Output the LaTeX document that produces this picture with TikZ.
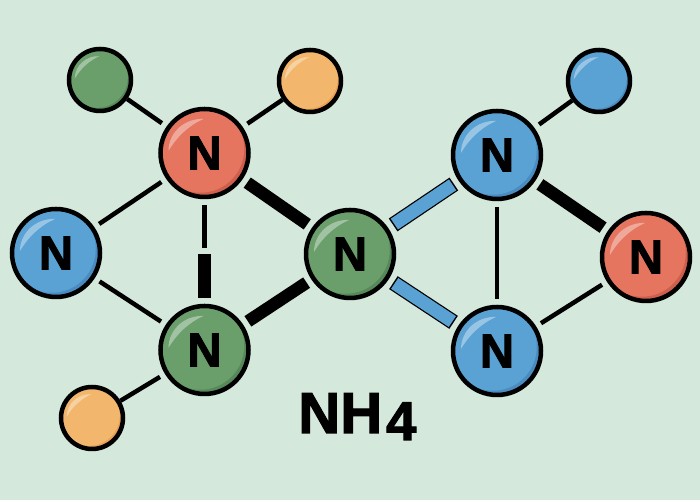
\documentclass[tikz,border=0pt]{standalone}
\usepackage{fontspec}
\setmainfont{Liberation Sans}
\newfontface\atomfont[FakeBold=2]{Liberation Sans Bold}
\usepackage{xcolor}
\definecolor{bgcol}{HTML}{D5E8DC}
\definecolor{redball}{HTML}{E5755F}
\definecolor{redballdark}{HTML}{CE5F4C}
\definecolor{blueball}{HTML}{5AA2D4}
\definecolor{blueballdark}{HTML}{4A8BC0}
\definecolor{greenball}{HTML}{6A9F6B}
\definecolor{greenballdark}{HTML}{578859}
\definecolor{orangeball}{HTML}{F2B76C}
\definecolor{orangeballdark}{HTML}{E9A155}
\tikzstyle{atom}      = [circle, draw=black, line width=0.09cm, inner sep=0pt, minimum size=1.76cm, outer sep=0.16cm, font=\fontsize{27}{27}\selectfont\atomfont]
\tikzstyle{smallatom} = [circle, draw=black, line width=0.09cm, inner sep=0pt, minimum size=1.24cm]
\tikzstyle{bond}      = [draw=black, line width=0.09cm]
\tikzstyle{fatbond}   = [draw=black, line width=0.25cm]
\tikzstyle{bluebond}  = [draw=blueball, line width=0.26cm, shorten >=0.03cm, shorten <=0.03cm,
  preaction={draw=black, line width=0.31cm, shorten >=0pt, shorten <=0pt}]
\tikzstyle{gloss}     = [fill=white, opacity=0.38]

\begin{document}
\begin{tikzpicture}
    \fill[bgcol] (0,0) rectangle (14,10);
    \useasboundingbox (0,0) rectangle (14,10);

    % atoms: x / y / colour / name / ball scale / style / text
    \foreach \x/\y/\colname/\name/\s/\kind/\txt in {
        4.09/6.94/redball/nredtop/1/atom/N,
        1.12/4.94/blueball/nblueleft/1/atom/N,
        4.09/3.00/greenball/ngreenlow/1/atom/N,
        7.00/4.92/greenball/ngreenmid/1/atom/N,
        9.94/6.90/blueball/nbluetop/1/atom/N,
        9.94/2.98/blueball/nbluelow/1/atom/N,
        12.92/4.86/redball/nredright/1/atom/N,
        2.00/8.40/greenball/sgreen/0.7/smallatom/,
        6.20/8.38/orangeball/sorangetop/0.7/smallatom/,
        11.98/8.38/blueball/sblue/0.7/smallatom/,
        1.84/1.64/orangeball/sorangelow/0.7/smallatom/}
    {
        \begin{scope}[shift={(\x,\y)}, scale=\s]
            \begin{scope}
                \clip (0,0) circle (0.88);
                \fill[\colname dark] (-1,-1) rectangle (1,1);
                \fill[\colname] (-0.085,0.085) circle (0.88);
            \end{scope}
            \fill[gloss] (-0.72,0.04) .. controls (-0.72,0.42) and (-0.38,0.70) .. (-0.02,0.68)
                .. controls (-0.30,0.56) and (-0.56,0.32) .. cycle;
        \end{scope}
        \node[\kind] (\name) at (\x,\y) {\txt};
    }

    \coordinate (vtop) at (4.09,5.04);
    \coordinate (vbot) at (4.09,4.92);

    \draw[bond] (nredtop) -- (sgreen);
    \draw[bond] (nredtop) -- (sorangetop);
    \draw[bond] (nredtop) -- (nblueleft);
    \draw[bond] (nredtop.south) -- (vtop);
    \draw[fatbond] (vbot) -- (ngreenlow.north);
    \draw[bond] (nblueleft) -- (ngreenlow);
    \draw[bond] (ngreenlow) -- (sorangelow);
    \draw[fatbond] (nredtop) -- (ngreenmid);
    \draw[fatbond] (ngreenlow) -- (ngreenmid);
    \draw[bluebond] (ngreenmid) -- (nbluetop);
    \draw[bluebond] (ngreenmid) -- (nbluelow);
    \draw[bond] (nbluetop) -- (sblue);
    \draw[bond] (nbluetop) -- (nbluelow);
    \draw[fatbond] (nbluetop) -- (nredright);
    \draw[bond] (nbluelow) -- (nredright);

    \node[anchor=base west, inner sep=0pt, font=\fontsize{33}{33}\selectfont\atomfont] (formula) at (5.96,1.34)
        {NH\kern0.08cm{\fontsize{31}{31}\selectfont\raisebox{-0.14cm}{4}}};
\end{tikzpicture}
\end{document}
